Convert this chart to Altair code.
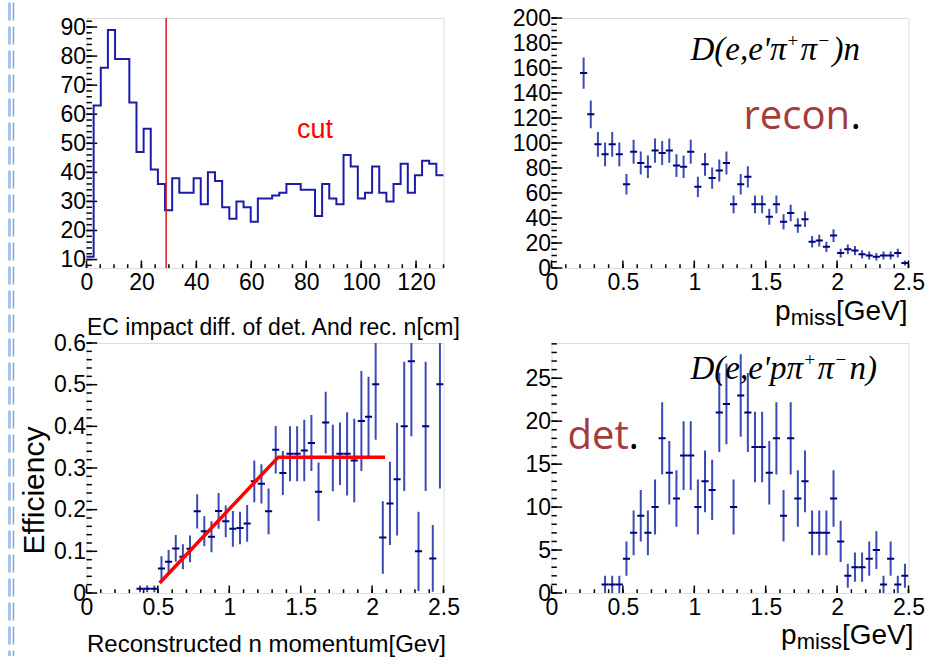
import altair as alt
import pandas as pd
import numpy as np

W, H = 357, 250

# ---------------- data ----------------
# top-left: EC impact difference histogram (50 bins of 2.6 cm from 0 to 130)
ec_bin_width = 2.6
ec_counts = [11, 63, 76, 89, 79, 79, 64, 47, 55, 41, 36, 27, 38, 33, 33, 38, 29, 40, 37, 28,
             24, 30, 28, 23, 31, 31, 32, 33, 36, 36, 34, 34, 25, 36, 31, 29, 46, 42, 31, 33,
             42, 33, 30, 36, 43, 33, 39, 44, 43, 39]
ec_cut = 29

# top-right: reconstructed D(e,e'pi+pi-)n
recon_p = [0.225, 0.275, 0.325, 0.375, 0.425, 0.475, 0.525, 0.575, 0.625, 0.675, 0.725, 0.775,
           0.825, 0.875, 0.925, 0.975, 1.025, 1.075, 1.125, 1.175, 1.225, 1.275, 1.325, 1.375,
           1.425, 1.475, 1.525, 1.575, 1.625, 1.675, 1.725, 1.775, 1.825, 1.875, 1.925, 1.975,
           2.025, 2.075, 2.125, 2.175, 2.225, 2.275, 2.325, 2.375, 2.425, 2.475]
recon_counts = [156, 123, 99, 91, 99, 91, 67, 93, 84, 81, 94, 92, 94, 82, 81, 93, 65, 83, 72, 78,
                84, 51, 67, 73, 51, 51, 41, 51, 37, 44, 34, 39, 21, 22, 17, 26, 12, 15, 14, 11,
                10, 9, 10, 10, 12, 4]
recon_err = [12.5, 11.1, 9.9, 9.5, 9.9, 9.5, 8.2, 9.6, 9.2, 9.0, 9.7, 9.6, 9.7, 9.1, 9.0, 9.6,
             8.1, 9.1, 8.5, 8.8, 9.2, 7.1, 8.2, 8.5, 7.1, 7.1, 6.4, 7.1, 6.1, 6.6, 5.8, 6.2,
             4.6, 4.7, 4.1, 5.1, 3.5, 3.9, 3.7, 3.3, 3.2, 3.0, 3.2, 3.2, 3.5, 2.0]

# bottom-left: efficiency
eff_p = [0.375, 0.425, 0.475, 0.525, 0.575, 0.625, 0.675, 0.725, 0.775, 0.825, 0.875, 0.925,
         0.975, 1.025, 1.075, 1.125, 1.175, 1.225, 1.275, 1.325, 1.375, 1.425, 1.475, 1.525,
         1.575, 1.625, 1.675, 1.725, 1.775, 1.825, 1.875, 1.925, 1.975, 2.025, 2.075, 2.125,
         2.175, 2.225, 2.275, 2.325, 2.375, 2.425, 2.475]
eff_val = [0.01, 0.01, 0.01, 0.059, 0.075, 0.107, 0.087, 0.106, 0.196, 0.148, 0.135, 0.197,
           0.172, 0.154, 0.156, 0.167, 0.268, 0.262, 0.196, 0.344, 0.288, 0.334, 0.334, 0.342,
           0.360, 0.243, 0.409, 0.324, 0.334, 0.334, 0.318, 0.413, 0.423, 0.501, 0.133, 0.215,
           0.273, 0.400, 0.556, 0.100, 0.400, 0.083, 0.501]
eff_err = [0.008, 0.008, 0.008, 0.029, 0.028, 0.032, 0.030, 0.032, 0.041, 0.036, 0.037, 0.043,
           0.038, 0.043, 0.039, 0.044, 0.050, 0.047, 0.055, 0.057, 0.053, 0.066, 0.066, 0.074,
           0.067, 0.070, 0.074, 0.080, 0.075, 0.100, 0.100, 0.120, 0.096, 0.133, 0.087, 0.100,
           0.135, 0.155, 0.180, 0.095, 0.155, 0.080, 0.250]
fit_p = [0.512, 1.343, 2.091]
fit_eff = [0.024, 0.326, 0.326]

# bottom-right: detected D(e,e'p pi+ pi- n)
det_p = eff_p
det_counts = [1, 1, 1, 4, 7, 9, 7, 10, 18, 14, 11, 16, 16, 10, 13, 12, 21, 22, 10, 23, 21, 17,
              17, 14, 18, 9, 18, 11, 13, 7, 7, 7, 11, 6, 2, 3, 3, 4, 5, 1, 4, 1, 2]
det_err = [1.0, 1.0, 1.0, 2.0, 2.6, 3.0, 2.6, 3.2, 4.2, 3.7, 3.3, 4.0, 4.0, 3.2, 3.6, 3.5, 4.6,
           4.7, 3.2, 4.8, 4.6, 4.1, 4.1, 3.7, 4.2, 3.0, 4.2, 3.3, 3.6, 2.6, 2.6, 2.6, 3.3, 2.4,
           1.4, 1.7, 1.7, 2.0, 2.2, 1.0, 2.0, 1.0, 1.4]
bin_half = 0.025

# axis tick labels
tl_x_ticks = [0, 20, 40, 60, 80, 100, 120]
tl_y_ticks = [10, 20, 30, 40, 50, 60, 70, 80, 90]
p_ticks = [0, 0.5, 1, 1.5, 2, 2.5]
tr_y_ticks = [0, 20, 40, 60, 80, 100, 120, 140, 160, 180, 200]
bl_y_ticks = [0, 0.1, 0.2, 0.3, 0.4, 0.5, 0.6]
br_y_ticks = [0, 5, 10, 15, 20, 25]

# texts
tl_xtitle = "EC impact diff. of det. And rec. n[cm]"
bl_xtitle = "Reconstructed n momentum[Gev]"
bl_ytitle = "Efficiency"
cut_text = "cut"
# formula pieces: (text, is_superscript)
recon_formula = [("D(e,e'π", False), ("+", True), ("π", False), ("−", True), (")n", False)]
det_formula = [("D(e,e'pπ", False), ("+", True), ("π", False), ("−", True), ("n)", False)]

LABEL_FONT = "Liberation Sans Narrow, Arial Narrow, Liberation Sans"
TITLE_FONT = "Liberation Sans"
SERIF = "Liberation Serif"
SLIDE_FONT = "Open Sans"
BROWN = "#a33c3c"
VBAR = "#3b4bb5"
HBAR = "#00007a"


def axis(values, title=None, **kw):
    return alt.Axis(values=values, format="~r", ticks=False, domain=False, grid=False,
                    labelFont=LABEL_FONT, labelFontSize=23, labelColor="black",
                    labelOverlap=False, labelFlush=False, labelBound=False,
                    title=title, titleFont=TITLE_FONT, titleColor="black",
                    titleFontWeight="normal", **kw)


def tick_layers(xs, ys, xax, yax, xmaj, xmin, ymaj, ymin):
    out = []
    for vals, L in [(xmaj, 7.5), (xmin, 3.75)]:
        out.append(alt.Chart(pd.DataFrame({"v": vals})).mark_rule(color="black", strokeWidth=1.5).encode(
            x=alt.X("v:Q", scale=xs, axis=xax), y=alt.value(H), y2=alt.value(H - L)))
    for vals, L in [(ymaj, 10.7), (ymin, 5.35)]:
        out.append(alt.Chart(pd.DataFrame({"v": vals})).mark_rule(color="black", strokeWidth=1.5).encode(
            y=alt.Y("v:Q", scale=ys, axis=yax), x=alt.value(0), x2=alt.value(L)))
    return out


def err_layers(p, val, err, xs, ys, xax, yax):
    df = pd.DataFrame({"p": p, "v": val, "e": err})
    df["lo"] = df["v"] - df["e"]
    df["hi"] = df["v"] + df["e"]
    df["pl"] = df["p"] - bin_half
    df["ph"] = df["p"] + bin_half
    v = alt.Chart(df).mark_rule(clip=True, color=VBAR, strokeWidth=2).encode(
        x=alt.X("p:Q", scale=xs, axis=xax), y=alt.Y("lo:Q", scale=ys, axis=yax), y2="hi:Q")
    h = alt.Chart(df).mark_rule(clip=True, color=HBAR, strokeWidth=2).encode(
        x=alt.X("pl:Q", scale=xs, axis=xax), x2="ph:Q", y=alt.Y("v:Q", scale=ys, axis=yax))
    return [v, h]


def text(t, x, y, size, font, color="black", align="left", style=None):
    kw = {"fontStyle": style} if style else {}
    return alt.Chart(pd.DataFrame({"t": [t]})).mark_text(
        align=align, baseline="alphabetic", fontSize=size, font=font, color=color, **kw
    ).encode(text="t:N", x=alt.value(x), y=alt.value(y))


def formula(pieces, xs_, base, size, sup_size):
    out = []
    for (t, sup), x in zip(pieces, xs_):
        if sup:
            out.append(text(t, x, base - 13, sup_size, SERIF))
        else:
            out.append(text(t, x, base, size, SERIF, style="italic"))
    return out


def pmiss_title(right, base):
    return [
        text("[GeV]", right, base, 28, TITLE_FONT, align="right"),
        text("miss", right - 71.6, base + 5, 22, TITLE_FONT, align="right"),
        text("p", right - 116.8, base, 28, TITLE_FONT, align="right"),
    ]


# ---------------- top-left ----------------
xs1 = alt.Scale(domain=[0, 130], nice=False, zero=False)
ys1 = alt.Scale(domain=[7.1, 93.1], nice=False, zero=False)
xax1 = axis(tl_x_ticks, tl_xtitle, titleX=0, titleY=66, titleAlign="left",
            titleBaseline="alphabetic", titleFontSize=23, labelPadding=3)
yax1 = axis(tl_y_ticks, None, labelPadding=1)
edges = [i * ec_bin_width for i in range(len(ec_counts))] + [len(ec_counts) * ec_bin_width]
hist_df = pd.DataFrame({"x": edges, "c": ec_counts + [ec_counts[-1]]})
tl_layers = tick_layers(xs1, ys1, xax1, yax1, tl_x_ticks, list(range(0, 131, 5)),
                        tl_y_ticks, list(range(8, 93, 2)))
tl_layers += [
    alt.Chart(hist_df).mark_line(interpolate="step-after", color="#1c1ca8", strokeWidth=2).encode(
        x=alt.X("x:Q", scale=xs1, axis=xax1), y=alt.Y("c:Q", scale=ys1, axis=yax1)),
    alt.Chart(pd.DataFrame({"x": [ec_cut]})).mark_rule(color="#e3141c", strokeWidth=1.5).encode(
        x=alt.X("x:Q", scale=xs1, axis=xax1), y=alt.value(0), y2=alt.value(H)),
    text(cut_text, 228.5, 120, 27, TITLE_FONT, color="#ff0000", align="center"),
    alt.Chart(pd.DataFrame({"s": [0]})).mark_rule(color="#a9c5e6", strokeWidth=3, strokeDash=[18, 6]).encode(
        x=alt.value(-77), y=alt.value(-15.5), y2=alt.value(638)),
    alt.Chart(pd.DataFrame({"s": [0]})).mark_rule(color="#7ea8d8", strokeWidth=1.5, strokeDash=[18, 6]).encode(
        x=alt.value(-73), y=alt.value(-15.5), y2=alt.value(638)),
]
tl = alt.layer(*tl_layers).properties(width=W, height=H)

# ---------------- top-right ----------------
xs2 = alt.Scale(domain=[0, 2.5], nice=False, zero=False)
ys2 = alt.Scale(domain=[0, 200], nice=False, zero=False)
xax2 = axis(p_ticks, None, labelPadding=3)
yax2 = axis(tr_y_ticks, None, labelPadding=1)
p_minor = [round(0.1 * i, 1) for i in range(26)]
tr_layers = tick_layers(xs2, ys2, xax2, yax2, p_ticks, p_minor, tr_y_ticks, list(range(0, 201, 5)))
tr_layers += err_layers(recon_p, recon_counts, recon_err, xs2, ys2, xax2, yax2)
tr_layers += formula(recon_formula, [139, 236, 249, 267, 281], 42, 33, 19)
tr_layers += [
    text("recon", 192, 111, 40, SLIDE_FONT, color=BROWN),
    text(".", 299, 111, 40, SLIDE_FONT),
] + pmiss_title(356, 302)
tr = alt.layer(*tr_layers).properties(width=W, height=H)

# ---------------- bottom-left ----------------
xs3 = alt.Scale(domain=[0, 2.5], nice=False, zero=False)
ys3 = alt.Scale(domain=[0, 0.6], nice=False, zero=False)
xax3 = axis(p_ticks, bl_xtitle, titleX=0, titleY=58, titleAlign="left",
            titleBaseline="alphabetic", titleFontSize=24, labelPadding=3)
yax3 = axis(bl_y_ticks, bl_ytitle, titleX=-43, titleY=147, titleAngle=270, titleAlign="center",
            titleBaseline="alphabetic", titleFontSize=30, labelPadding=1)
bl_layers = tick_layers(xs3, ys3, xax3, yax3, p_ticks, p_minor, bl_y_ticks,
                        [round(0.02 * i, 2) for i in range(31)])
bl_layers += err_layers(eff_p, eff_val, eff_err, xs3, ys3, xax3, yax3)
bl_layers += [
    alt.Chart(pd.DataFrame({"p": fit_p, "e": fit_eff})).mark_line(color="#ff0000", strokeWidth=3.5).encode(
        x=alt.X("p:Q", scale=xs3, axis=xax3), y=alt.Y("e:Q", scale=ys3, axis=yax3)),
]
bl = alt.layer(*bl_layers).properties(width=W, height=H)

# ---------------- bottom-right ----------------
xs4 = alt.Scale(domain=[0, 2.5], nice=False, zero=False)
ys4 = alt.Scale(domain=[0, 29.1], nice=False, zero=False)
xax4 = axis(p_ticks, None, labelPadding=3)
yax4 = axis(br_y_ticks, None, labelPadding=1)
br_layers = tick_layers(xs4, ys4, xax4, yax4, p_ticks, p_minor, br_y_ticks, list(range(0, 30)))
br_layers += err_layers(det_p, det_counts, det_err, xs4, ys4, xax4, yax4)
br_layers += formula(det_formula, [139, 253, 266, 284, 298], 36, 33, 19)
br_layers += [
    text("det", 16, 106, 40, SLIDE_FONT, color=BROWN),
    text(".", 77, 106, 40, SLIDE_FONT),
] + pmiss_title(362, 301)
br = alt.layer(*br_layers).properties(width=W, height=H)

chart = alt.concat(
    tl, tr, bl, br, columns=2, spacing={"row": 75, "column": 108}, bounds="flush",
    padding={"left": 7.5, "top": 0, "right": 0, "bottom": 0},
).configure_view(stroke="black", strokeWidth=2).configure(background="white")

chart.save("out.html", embed_options={"renderer": "svg", "actions": False})
